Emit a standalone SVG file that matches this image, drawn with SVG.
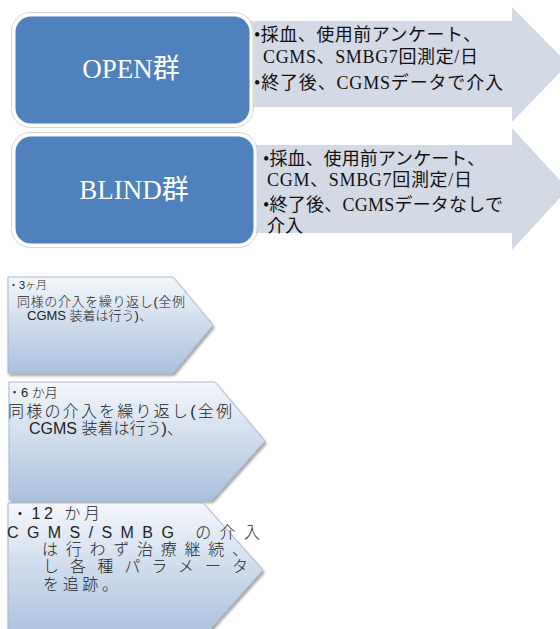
<svg xmlns="http://www.w3.org/2000/svg" width="560" height="629" viewBox="0 0 560 629">
<defs>
<style>
.box{fill:#4F81BD;stroke:#FFFFFF;stroke-width:3}
.boxo{fill:none;stroke:#D6D6D6;stroke-width:1}
.arr{fill:#D4D9E6}
.lbl{font-family:"Liberation Serif","Noto Sans CJK JP",serif;font-size:27px;fill:#FFFFFF;text-anchor:middle}
.at{font-family:"Liberation Serif","Noto Sans CJK JP",serif;font-size:18px;fill:#111111}
.chev{fill:url(#cg);stroke:#A3B7D3;stroke-width:1;filter:url(#sh)}
.ct{font-family:"Liberation Sans","Noto Sans CJK JP",sans-serif;font-weight:300;fill:#222222}
.s11{font-size:11px}
.s13{font-size:13px}
.s16{font-size:16px}
.s17{font-size:16px}
</style>
<linearGradient id="cg" x1="0" y1="0" x2="0" y2="1">
<stop offset="0" stop-color="#F4F7FB"/>
<stop offset="1" stop-color="#A9C0DE"/>
</linearGradient>
<filter id="sh" x="-5%" y="-5%" width="115%" height="120%">
<feDropShadow dx="1.5" dy="2.5" stdDeviation="1.2" flood-color="#000000" flood-opacity="0.35"/>
</filter>
</defs>

<g id="arrow-open">
<polygon class="arr" points="240,21 512,21 512,7 568,64 512,122 512,107 240,107"/>
<text class="at" x="254" y="41" textLength="227" lengthAdjust="spacing">•採血、使用前アンケート、</text>
<text class="at" x="263" y="63" textLength="215" lengthAdjust="spacing">CGMS、SMBG7回測定/日</text>
<text class="at" x="254" y="89" textLength="249" lengthAdjust="spacing">•終了後、CGMSデータで介入</text>
</g>

<g id="arrow-blind">
<polygon class="arr" points="240,145 512,145 512,128 568,189 512,250 512,233 240,233"/>
<text class="at" x="263" y="165" textLength="222" lengthAdjust="spacing">•採血、使用前アンケート、</text>
<text class="at" x="267" y="186" textLength="205" lengthAdjust="spacing">CGM、SMBG7回測定/日</text>
<text class="at" x="263" y="211" textLength="240" lengthAdjust="spacing">•終了後、CGMSデータなしで</text>
<text class="at" x="267" y="232">介入</text>
</g>

<g id="node-open">
<rect class="boxo" x="11.5" y="12.5" width="242" height="115" rx="19"/>
<rect class="box" x="14" y="15" width="237" height="110" rx="17"/>
<text class="lbl" x="131" y="78">OPEN群</text>
</g>

<g id="node-blind">
<rect class="boxo" x="11.5" y="132.5" width="246" height="115" rx="19"/>
<rect class="box" x="14" y="135" width="241" height="110" rx="17"/>
<text class="lbl" x="134" y="199">BLIND群</text>
</g>

<g id="chevron-3m">
<polygon class="chev" points="8,277 173,277 213,325 173,373 8,373"/>
<text class="ct s11" x="8" y="289">・3ヶ月</text>
<text class="ct s13" x="17" y="306" textLength="168" lengthAdjust="spacing">同様の介入を繰り返し(全例</text>
<text class="ct s13" x="27" y="320">CGMS 装着は行う)、</text>
</g>

<g id="chevron-6m">
<polygon class="chev" points="9,382 215,382 265,441 212,500 9,500"/>
<text class="ct s13" x="8" y="397">・6 か月</text>
<text class="ct s17" x="8" y="417" textLength="224" lengthAdjust="spacing">同様の介入を繰り返し(全例</text>
<text class="ct s17" x="29" y="434">CGMS 装着は行う)、</text>
</g>

<g id="chevron-12m">
<polygon class="chev" points="8,503 203,503 263,570 203,637 8,637"/>
<text class="ct s16" x="12" y="519" textLength="88" lengthAdjust="spacing">・12 か月</text>
<text class="ct s17" x="7" y="538" textLength="253" lengthAdjust="spacing">CGMS/SMBG の介入</text>
<text class="ct s17" x="42" y="555" textLength="206" lengthAdjust="spacing">は行わず治療継続、</text>
<text class="ct s17" x="43" y="572" textLength="205" lengthAdjust="spacing">し各種パラメータ</text>
<text class="ct s17" x="43" y="590" textLength="75" lengthAdjust="spacing">を追跡。</text>
</g>
</svg>
